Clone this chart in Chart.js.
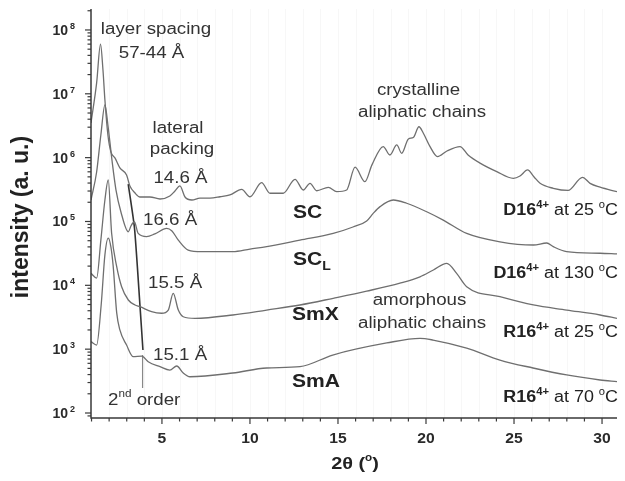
<!DOCTYPE html>
<html>
<head>
<meta charset="utf-8">
<title>XRD patterns D16 / R16</title>
<script src="https://cdn.jsdelivr.net/npm/chart.js@4.4.0/dist/chart.umd.min.js"></script>
<style>
  body { margin: 0; background: #fff; }
  canvas { display: block; }
</style>
</head>
<body>

<canvas id="xrd" width="625" height="481"></canvas>

<script>
    // 2theta (deg) and intensity (a. u.), one pair of arrays per pattern

    // SC : D16(4+) at 25 C
    const scAngle = [0.97, 1.29, 1.51, 1.65, 1.76, 1.93, 2.10, 2.33, 2.61, 2.99,
                     3.18, 3.47, 3.75, 4.32, 4.89, 5.45, 5.74, 6.02, 6.31, 6.70,
                     7.16, 7.73, 8.30, 8.86, 9.53, 10.0, 10.66, 11.14, 11.89,
                     12.56, 13.03, 13.41, 13.79, 14.45, 14.93, 15.49, 15.97, 16.53, 16.93,
                     17.57, 17.95, 18.34, 18.62, 19.0, 19.28, 19.6, 19.85, 20.23, 20.65,
                     21.19, 21.93, 22.39, 23.07, 24.02, 24.96, 25.34, 25.77, 26.14, 26.48,
                     27.23, 28.07, 28.89, 29.32, 29.89, 30.85];
    const scInt = [3.5e6, 1.48e7, 6.0e7, 2.36e7, 8.0e6, 2.26e6, 1.23e6, 9.9e5, 6.9e5, 5.35e5,
                   3.6e5, 2.79e5, 2.42e5, 2.42e5, 2.25e5, 2.51e5, 3.0e5, 3.6e5, 2.42e5, 2.17e5,
                   2.33e5, 2.33e5, 2.44e5, 2.6e5, 3.19e5, 2.44e5, 4.06e5, 2.77e5, 2.77e5,
                   4.58e5, 3.11e5, 3.96e5, 3.03e5, 3.43e5, 2.93e5, 3.11e5, 7.1e5, 4.2e5, 7.7e5,
                   1.49e6, 1.1e6, 1.58e6, 1.17e6, 1.96e6, 2.07e6, 3.05e6, 2.41e6, 1.49e6, 1.04e6,
                   1.27e6, 1.49e6, 1.1e6, 8.2e5, 6.03e5, 4.75e5, 5.16e5, 6.41e5, 4.98e5, 3.96e5,
                   3.31e5, 3.06e5, 4.92e5, 3.96e5, 3.44e5, 2.93e5];

    // SC_L : D16(4+) at 130 C
    const sclAngle = [0.97, 1.29, 1.53, 1.76, 1.93, 2.16, 2.39, 2.67, 3.09, 3.24,
                      3.43, 3.65, 4.13, 4.6, 5.27, 5.57, 5.93, 6.49, 7.26, 8.01,
                      9.03, 10.0, 10.95, 12.84, 14.73, 15.85, 16.63, 17.0, 17.39, 18.14,
                      18.9, 20.04, 20.98, 22.31, 24.2, 26.1, 26.86, 27.23, 27.99, 29.89, 30.85];
    const sclInt = [2.17e5, 5.96e5, 2.26e6, 6.7e6, 3.25e6, 9.2e5, 3.11e5, 1.41e5, 6.9e4, 8.5e4,
                    9.9e4, 6.5e4, 5.8e4, 6.4e4, 7.8e4, 7.1e4, 5.1e4, 3.57e4, 3.37e4, 3.37e4,
                    3.37e4, 3.7e4, 4.03e4, 5.1e4, 6.5e4, 8.2e4, 1.02e5, 1.34e5, 1.71e5, 2.17e5,
                    1.93e5, 1.42e5, 1.05e5, 6.5e4, 4.8e4, 4.28e4, 4.6e4, 4.03e4, 3.37e4, 3.18e4, 3.1e4];

    // SmX : R16(4+) at 25 C
    const smxAngle = [0.97, 1.29, 1.53, 1.76, 1.95, 2.14, 2.43, 2.71, 3.09, 3.47,
                      3.75, 4.41, 4.98, 5.36, 5.64, 5.93, 6.21, 6.88, 9.03, 10.95,
                      12.84, 14.73, 16.63, 18.52, 19.66, 20.42, 21.18, 21.74, 22.31, 24.2,
                      26.1, 28.0, 29.89, 30.85];
    const smxInt = [1.54e4, 1.3e4, 5.1e4, 2.17e5, 4.47e5, 6.6e4, 1.96e4, 9.5e3, 5.89e3, 4.92e3,
                    4.63e3, 3.86e3, 3.65e3, 4.1e3, 7.5e3, 4.1e3, 3.22e3, 3.04e3, 3.43e3, 4.1e3,
                    4.92e3, 6.27e3, 8.1e3, 1.08e4, 1.36e4, 1.74e4, 2.21e4, 1.54e4, 9.5e3, 6.64e3,
                    4.92e3, 4.1e3, 3.43e3, 3.04e3];

    // SmA : R16(4+) at 70 C
    const smaAngle = [0.97, 1.29, 1.55, 1.76, 1.95, 2.1, 2.23, 2.43, 2.61, 2.99,
                      3.37, 3.85, 4.22, 4.89, 5.45, 5.84, 6.21, 6.59, 9.03, 10.95,
                      12.84, 14.7, 17.77, 19.66, 20.4, 22.31, 24.2, 26.08, 27.99, 29.89, 30.85];
    const smaInt = [1.31e3, 1.16e3, 5.0e3, 3.0e4, 5.5e4, 4.0e4, 2.0e4, 3.7e3, 2.0e3, 1.16e3,
                    762, 780, 635, 531, 471, 545, 423, 370, 423, 507,
                    531, 809, 1250, 1480, 1390, 1040, 676, 507, 394, 329, 309];

    // dark marker through the 2nd order reflections, and its thin tail
    const orderAngle = [3.085, 3.44, 3.75, 3.92];
    const orderInt = [3.86e5, 7.9e4, 4.9e3, 970];
    const tailAngle = [3.9, 3.9];
    const tailInt = [810, 246];

    const xTicks = [5, 10, 15, 20, 25, 30];
    const yDecades = [2, 3, 4, 5, 6, 7, 8];

    const FAM = '"Liberation Sans", Arial, sans-serif';
    const SX = 1.17;   // the figure's lettering is a bit wider than plain Arial

    function pts(a, v) {
        return a.map(function(x, i) { return { x: x, y: v[i] }; });
    }

    // writes a row of text pieces [text, font, dy], squeezed/stretched by sx
    function write(ctx, parts, x, y, align, sx, color) {
        sx = sx || SX;
        let w = 0;
        parts.forEach(function(p) { ctx.font = p[1]; w += ctx.measureText(p[0]).width; });
        let left = x;
        if (align === 'right') left = x - w * sx;
        if (align === 'center') left = x - w * sx / 2;
        ctx.save();
        ctx.translate(left, y);
        ctx.scale(sx, 1);
        ctx.fillStyle = color || '#333';
        ctx.textAlign = 'left';
        ctx.textBaseline = 'alphabetic';
        let pos = 0;
        parts.forEach(function(p) {
            ctx.font = p[1];
            ctx.fillText(p[0], pos, p[2] || 0);
            pos += ctx.measureText(p[0]).width;
        });
        ctx.restore();
    }

    const nrm = '16px ' + FAM;
    const bld = 'bold 16px ' + FAM;
    const big = 'bold 18px ' + FAM;
    const supN = '10px ' + FAM;
    const supB = 'bold 10px ' + FAM;

    const decor = {
        id: 'decor',
        beforeDatasetsDraw: function(chart) {
            const ctx = chart.ctx, a = chart.chartArea, xs = chart.scales.x;
            ctx.save();
            ctx.strokeStyle = 'rgba(0,0,0,0.03)';
            ctx.lineWidth = 1;
            for (let v = 2; v <= 30; v++) {
                const px = Math.round(xs.getPixelForValue(v)) + 0.5;
                ctx.beginPath(); ctx.moveTo(px, a.top); ctx.lineTo(px, a.bottom); ctx.stroke();
            }
            ctx.restore();
        },
        afterDatasetsDraw: function(chart) {
            const ctx = chart.ctx, a = chart.chartArea;
            const xs = chart.scales.x, ys = chart.scales.y;
            ctx.save();

            // axis lines
            ctx.strokeStyle = '#3a3a3a';
            ctx.lineWidth = 1.5;
            ctx.beginPath();
            ctx.moveTo(a.left, a.top);
            ctx.lineTo(a.left, a.bottom);
            ctx.lineTo(a.right, a.bottom);
            ctx.stroke();

            // x ticks, every degree, long every five
            ctx.lineWidth = 1.2;
            for (let v = 1; v <= 30; v++) {
                const px = xs.getPixelForValue(v);
                const len = v % 5 === 0 ? 6 : 3.5;
                ctx.beginPath(); ctx.moveTo(px, a.bottom); ctx.lineTo(px, a.bottom + len); ctx.stroke();
            }
            // y ticks, log minor ticks
            for (let e = 1; e <= 8; e++) {
                for (let k = 1; k <= 9; k++) {
                    const v = k * Math.pow(10, e);
                    if (v < ys.min || v > ys.max) continue;
                    const py = ys.getPixelForValue(v);
                    const len = k === 1 ? 6 : 3.5;
                    ctx.beginPath(); ctx.moveTo(a.left, py); ctx.lineTo(a.left - len, py); ctx.stroke();
                }
            }

            // tick labels
            xTicks.forEach(function(v) {
                write(ctx, [[String(v), 'bold 14px ' + FAM]], xs.getPixelForValue(v), 443, 'center', 1.12, '#2a2a2a');
            });
            yDecades.forEach(function(e) {
                const py = ys.getPixelForValue(Math.pow(10, e));
                write(ctx, [['10', 'bold 14px ' + FAM]], 68, py + 5, 'right', 1.0, '#2a2a2a');
                write(ctx, [[String(e), 'bold 9px ' + FAM]], 70, py - 1, 'left', 1.0, '#2a2a2a');
            });

            // axis titles
            write(ctx, [['2θ (', 'bold 17px ' + FAM], ['o', 'bold 10px ' + FAM, -8], [')', 'bold 17px ' + FAM]],
                  355, 469, 'center', SX, '#222');
            ctx.save();
            ctx.translate(28, 217);
            ctx.rotate(-Math.PI / 2);
            ctx.font = 'bold 23px ' + FAM;
            ctx.fillStyle = '#222';
            ctx.textAlign = 'center';
            ctx.textBaseline = 'alphabetic';
            ctx.fillText('intensity (a. u.)', 0, 0);
            ctx.restore();

            // annotations
            write(ctx, [['layer spacing', nrm]], 156, 34, 'center');
            write(ctx, [['57-44 Å', nrm]], 151.5, 58, 'center');
            write(ctx, [['lateral', nrm]], 178, 133, 'center');
            write(ctx, [['packing', nrm]], 182, 154, 'center');
            write(ctx, [['14.6 Å', nrm]], 180.5, 183, 'center');
            write(ctx, [['crystalline', nrm]], 418.5, 95, 'center');
            write(ctx, [['aliphatic chains', nrm]], 422, 117, 'center');
            write(ctx, [['16.6 Å', nrm]], 143, 225, 'left');
            write(ctx, [['15.5 Å', nrm]], 148, 288, 'left');
            write(ctx, [['15.1 Å', nrm]], 153, 360, 'left');
            write(ctx, [['amorphous', nrm]], 419.5, 305, 'center');
            write(ctx, [['aliphatic chains', nrm]], 422, 328, 'center');
            write(ctx, [['2', nrm], ['nd', supN, -8], [' order', nrm]], 108, 405, 'left');

            // phase names
            write(ctx, [['SC', big]], 293, 218, 'left', SX, '#222');
            write(ctx, [['SC', big], ['L', 'bold 12px ' + FAM, 5]], 293, 265, 'left', SX, '#222');
            write(ctx, [['SmX', big]], 292, 320, 'left', SX, '#222');
            write(ctx, [['SmA', big]], 292, 387, 'left', SX, '#222');

            // sample / temperature labels
            const lab = function(name, temp, y) {
                write(ctx, [[name, bld], ['4+', supB, -7], [' at ' + temp + ' ', nrm], ['o', supN, -7], ['C', nrm]],
                      618, y, 'right', 1.12, '#222');
            };
            lab('D16', '25', 215);
            lab('D16', '130', 278);
            lab('R16', '25', 337);
            lab('R16', '70', 401.5);

            ctx.restore();
        }
    };

    function curve(a, v) {
        return {
            data: pts(a, v),
            borderColor: '#6f6f6f',
            borderWidth: 1.3,
            pointRadius: 0,
            fill: false,
            cubicInterpolationMode: 'monotone'
        };
    }

    new Chart(document.getElementById('xrd'), {
        type: 'line',
        data: {
            datasets: [
                curve(scAngle, scInt),
                curve(sclAngle, sclInt),
                curve(smxAngle, smxInt),
                curve(smaAngle, smaInt),
                {
                    data: pts(orderAngle, orderInt),
                    borderColor: '#333',
                    borderWidth: 1.6,
                    pointRadius: 0,
                    tension: 0.2
                },
                {
                    data: pts(tailAngle, tailInt),
                    borderColor: '#888',
                    borderWidth: 1.2,
                    pointRadius: 0
                }
            ]
        },
        options: {
            responsive: false,
            animation: false,
            layout: { padding: { left: 91, right: 8, top: 9, bottom: 63 } },
            plugins: { legend: { display: false }, tooltip: { enabled: false } },
            scales: {
                x: { type: 'linear', min: 0.97, max: 30.85, display: false },
                y: { type: 'logarithmic', min: 83.5, max: 2.13e8, display: false }
            }
        },
        plugins: [decor]
    });
</script>

</body>
</html>
